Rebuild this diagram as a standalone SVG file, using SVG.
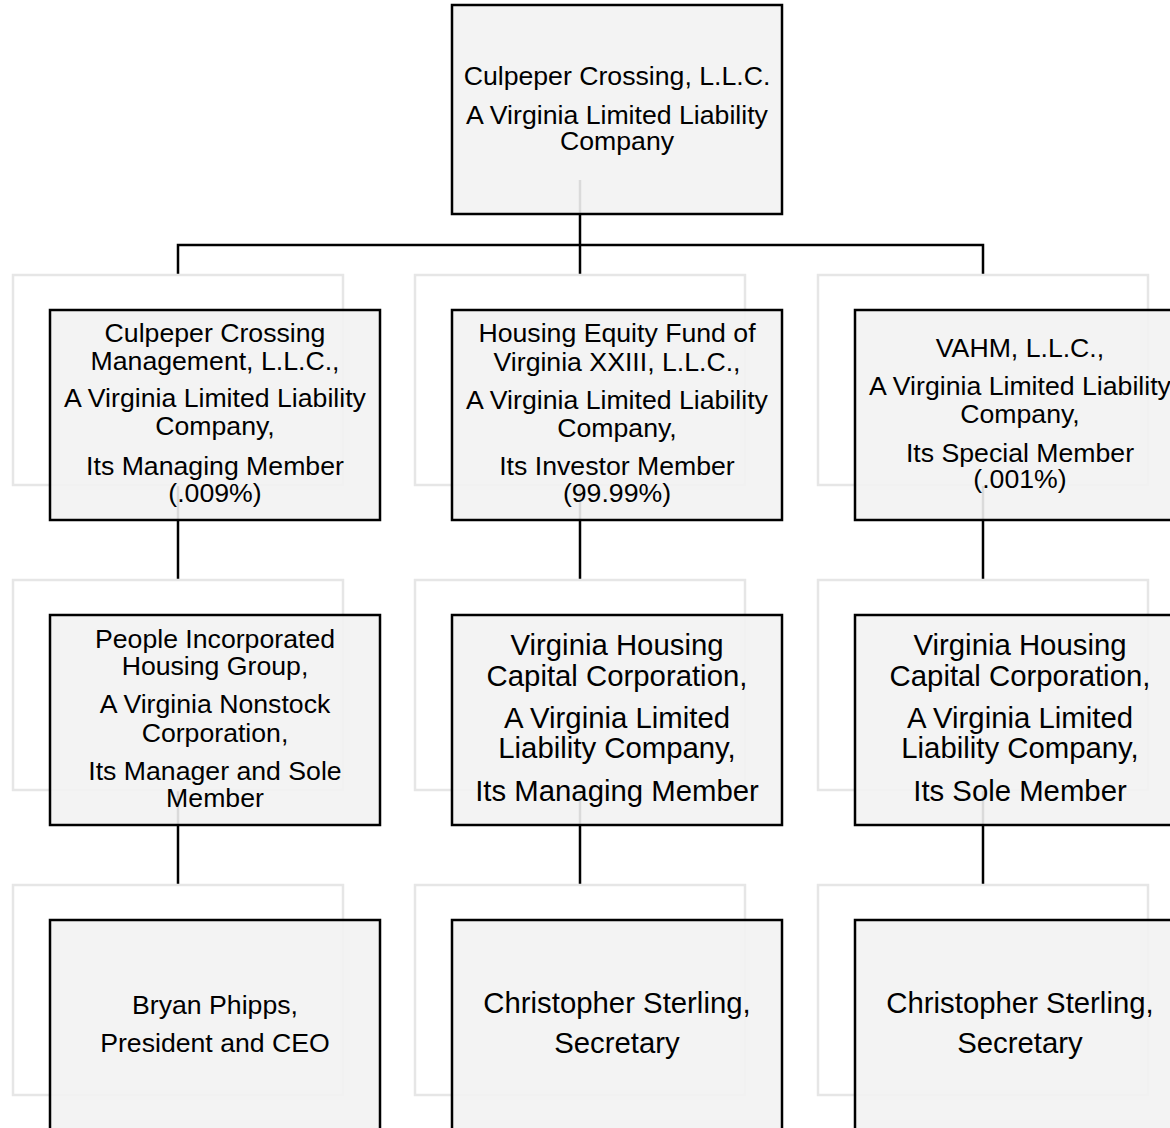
<svg xmlns="http://www.w3.org/2000/svg" width="1170" height="1128" viewBox="0 0 1170 1128">
<style>
.bg{fill:#ffffff}
.ghost{fill:#ffffff;stroke:#e6e6e6;stroke-width:2.5}
.box{fill:#f2f2f2;fill-opacity:0.9;stroke:#000000;stroke-width:2.5}
.conn{fill:none;stroke:#000000;stroke-width:2.5}
text{font-family:"Liberation Sans",Arial,sans-serif;fill:#000000;text-anchor:middle}
.s{font-size:26.67px}
.b{font-size:29.33px}
</style>
<rect class="bg" x="0" y="0" width="1170" height="1128"/>
<g id="connectors">
<path class="conn" d="M580,180 V275"/>
<path class="conn" d="M178,275 V245 H983 V275"/>
<path class="conn" d="M178,485 V580"/>
<path class="conn" d="M580,485 V580"/>
<path class="conn" d="M983,485 V580"/>
<path class="conn" d="M178,790 V885"/>
<path class="conn" d="M580,790 V885"/>
<path class="conn" d="M983,790 V885"/>
</g>
<g id="node-top">
<rect class="box" x="452" y="5" width="330" height="209"/>
<text class="s" x="617" y="85">Culpeper Crossing, L.L.C.</text>
<text class="s" x="617" y="123.5">A Virginia Limited Liability</text>
<text class="s" x="617" y="150">Company</text>
</g>
<g id="node-management">
<rect class="ghost" x="13" y="275" width="330" height="210"/>
<rect class="box" x="50" y="310" width="330" height="210"/>
<text class="s" x="215" y="342">Culpeper Crossing</text>
<text class="s" x="215" y="370">Management, L.L.C.,</text>
<text class="s" x="215" y="407">A Virginia Limited Liability</text>
<text class="s" x="215" y="435">Company,</text>
<text class="s" x="215" y="475">Its Managing Member</text>
<text class="s" x="215" y="502">(.009%)</text>
</g>
<g id="node-hef">
<rect class="ghost" x="415" y="275" width="330" height="210"/>
<rect class="box" x="452" y="310" width="330" height="210"/>
<text class="s" x="617" y="342">Housing Equity Fund of</text>
<text class="s" x="617" y="371">Virginia XXIII, L.L.C.,</text>
<text class="s" x="617" y="409">A Virginia Limited Liability</text>
<text class="s" x="617" y="437">Company,</text>
<text class="s" x="617" y="475">Its Investor Member</text>
<text class="s" x="617" y="502">(99.99%)</text>
</g>
<g id="node-vahm">
<rect class="ghost" x="818" y="275" width="330" height="210"/>
<rect class="box" x="855" y="310" width="330" height="210"/>
<text class="s" x="1020" y="357">VAHM, L.L.C.,</text>
<text class="s" x="1020" y="395">A Virginia Limited Liability</text>
<text class="s" x="1020" y="423">Company,</text>
<text class="s" x="1020" y="462">Its Special Member</text>
<text class="s" x="1020" y="488">(.001%)</text>
</g>
<g id="node-people">
<rect class="ghost" x="13" y="580" width="330" height="210"/>
<rect class="box" x="50" y="615" width="330" height="210"/>
<text class="s" x="215" y="648">People Incorporated</text>
<text class="s" x="215" y="675">Housing Group,</text>
<text class="s" x="215" y="713">A Virginia Nonstock</text>
<text class="s" x="215" y="741.5">Corporation,</text>
<text class="s" x="215" y="780">Its Manager and Sole</text>
<text class="s" x="215" y="807">Member</text>
</g>
<g id="node-vhcc-1">
<rect class="ghost" x="415" y="580" width="330" height="210"/>
<rect class="box" x="452" y="615" width="330" height="210"/>
<text class="b" x="617" y="655">Virginia Housing</text>
<text class="b" x="617" y="686">Capital Corporation,</text>
<text class="b" x="617" y="728">A Virginia Limited</text>
<text class="b" x="617" y="758">Liability Company,</text>
<text class="b" x="617" y="801">Its Managing Member</text>
</g>
<g id="node-vhcc-2">
<rect class="ghost" x="818" y="580" width="330" height="210"/>
<rect class="box" x="855" y="615" width="330" height="210"/>
<text class="b" x="1020" y="655">Virginia Housing</text>
<text class="b" x="1020" y="686">Capital Corporation,</text>
<text class="b" x="1020" y="728">A Virginia Limited</text>
<text class="b" x="1020" y="758">Liability Company,</text>
<text class="b" x="1020" y="801">Its Sole Member</text>
</g>
<g id="node-phipps">
<rect class="ghost" x="13" y="885" width="330" height="210"/>
<rect class="box" x="50" y="920" width="330" height="210"/>
<text class="s" x="215" y="1014">Bryan Phipps,</text>
<text class="s" x="215" y="1052">President and CEO</text>
</g>
<g id="node-sterling-1">
<rect class="ghost" x="415" y="885" width="330" height="210"/>
<rect class="box" x="452" y="920" width="330" height="210"/>
<text class="b" x="617" y="1013">Christopher Sterling,</text>
<text class="b" x="617" y="1053">Secretary</text>
</g>
<g id="node-sterling-2">
<rect class="ghost" x="818" y="885" width="330" height="210"/>
<rect class="box" x="855" y="920" width="330" height="210"/>
<text class="b" x="1020" y="1013">Christopher Sterling,</text>
<text class="b" x="1020" y="1053">Secretary</text>
</g>
</svg>
